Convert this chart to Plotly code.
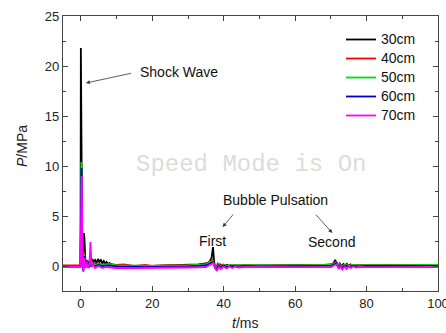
import plotly.graph_objects as go

labels = ["30cm", "40cm", "50cm", "60cm", "70cm"]
colors = ["#000000", "#ff0000", "#00dd00", "#0000cc", "#ff00ff"]

t30 = [-5, -0.1, 0, 0.15, 0.4, 0.7, 0.85, 1.0, 1.3, 1.6, 2.0, 2.4, 2.8, 3.2, 3.6, 4.0, 4.4, 4.8, 5.2, 5.6,
       6.0, 6.4, 6.8, 7.2, 7.6, 8.0, 9, 10, 12, 15, 20, 25, 30, 33, 35, 36, 36.6, 37.0, 37.3, 37.6, 38.0,
       38.5, 39, 39.5, 40, 40.5, 41, 41.5, 42, 42.5, 43, 44, 45, 46, 48, 50, 55, 60, 65, 68, 70, 70.8, 71.2,
       71.6, 72.0, 72.5, 73, 73.5, 74, 74.5, 75, 75.5, 76, 76.5, 77, 77.5, 78, 79, 80, 82, 85, 90, 95, 100]
p30 = [0, 0, 21.8, 8, 0.5, 1.5, 3.3, 2.8, 0.3, 0.6, 0.2, 0.5, 0.3, 0.7, 0.4, 0.6, 0.3, 0.7, 0.4, 0.6,
       0.3, 0.5, 0.2, 0.4, 0.2, 0.3, 0.1, 0.05, 0, -0.05, 0, 0.05, 0.1, 0.15, 0.25, 0.4, 0.8, 1.9, 0.5, -0.2, -0.35,
       -0.1, 0.15, -0.05, 0.1, 0, 0.12, -0.02, 0.1, 0, 0.08, 0.05, 0.08, 0.05, 0.05, 0.05, 0.05, 0.08, 0.1, 0.12, 0.15, 0.3, 0.6,
       0.3, 0.0, 0.25, -0.05, 0.2, -0.05, 0.2, 0, 0.15, 0, 0.12, 0.02, 0.1, 0.05, 0.08, 0.08, 0.08, 0.08, 0.08, 0.08, 0.08]

t40 = [-5, -0.1, 0.1, 0.3, 0.6, 0.9, 1.2, 1.6, 2.0, 3, 4, 5, 6, 8, 10, 12, 15, 18, 20, 25, 30, 35, 36.8, 37.3, 37.8,
       38.3, 39, 40, 41, 42, 44, 46, 50, 55, 60, 65, 70, 71.4, 71.9, 72.4, 73, 74, 75, 76, 78, 80, 85, 90, 95, 100]
p40 = [0.05, 0.05, 8.2, 1.0, -0.3, 1.5, 0.3, 0.5, 0.1, 0.3, 0.2, 0.25, 0.15, 0.2, 0.1, 0.15, 0.0, 0.1, 0.0, 0.08, 0.05, 0.15, 0.6, 0.1, -0.2,
       0.25, 0.05, 0.15, 0.0, 0.12, 0.02, 0.1, 0.0, 0.08, 0.02, 0.08, 0.1, 0.4, -0.05, 0.2, 0, 0.15, 0.02, 0.12, 0.05, 0.1, 0.03, 0.1, 0.05, 0.1]

t50 = [-5, -0.1, 0.15, 0.35, 0.6, 0.9, 1.3, 1.7, 2.2, 3, 4, 5, 6, 8, 10, 15, 20, 30, 35, 36.9, 37.4, 37.9,
       38.4, 39, 40, 41, 42, 44, 46, 50, 60, 70, 71.5, 72.0, 72.5, 73, 74, 75, 76, 78, 80, 90, 100]
p50 = [0.0, 0.0, 10.4, 1.2, -0.4, 1.2, 0.2, 0.4, 0.0, 0.25, 0.1, 0.2, 0.1, 0.15, 0.05, 0.0, 0.0, 0.05, 0.15, 0.5, 0.0, -0.3,
       0.15, -0.05, 0.12, 0.0, 0.1, 0.05, 0.08, 0.05, 0.05, 0.1, 0.35, -0.1, 0.15, -0.05, 0.12, 0.0, 0.1, 0.05, 0.08, 0.08, 0.1]

t60 = [-5, -0.1, 0.2, 0.4, 0.7, 1.0, 1.4, 1.8, 2.3, 3, 4, 5, 6, 8, 10, 15, 20, 30, 35, 37.0, 37.5, 38.0,
       38.5, 39, 40, 41, 42, 44, 46, 50, 60, 70, 71.6, 72.1, 72.6, 73, 74, 75, 76, 78, 80, 90, 100]
p60 = [-0.05, -0.05, 9.8, 1.0, -0.5, 1.0, 0.1, 0.3, -0.1, 0.15, 0.0, 0.1, 0.0, 0.05, -0.05, -0.1, -0.1, -0.05, 0.05, 0.4, -0.1, -0.35,
       0.05, -0.1, 0.05, -0.1, 0.0, -0.05, 0.0, -0.05, -0.05, 0.0, 0.3, -0.2, 0.05, -0.15, 0.05, -0.1, 0.0, -0.05, 0.0, 0.0, 0.0]

t70 = [-5, -0.1, 0.25, 0.45, 0.7, 1.0, 1.3, 1.6, 2.0, 2.4, 2.7, 3.0, 3.5, 4, 5, 6, 7, 8, 10, 15, 20, 30, 35,
       37.1, 37.6, 38.1, 38.6, 39.2, 40, 40.8, 41.6, 42.4, 43.2, 44, 46, 50, 60, 70, 71.7, 72.2, 72.7, 73.2, 73.8,
       74.4, 75, 75.6, 76.2, 77, 78, 80, 90, 100]
p70 = [-0.1, -0.1, 9.0, 1.0, -0.6, 0.8, -0.2, 0.3, -0.2, 0.2, 2.4, -0.1, 0.1, -0.2, 0.0, -0.2, -0.1, -0.15, -0.2, -0.2,
       -0.2, -0.15, -0.1, 0.3, -0.2, -0.5, -0.1, -0.3, -0.05, -0.25, -0.05, -0.2, -0.05, -0.15, -0.1, -0.12, -0.12, -0.1,
       0.2, -0.3, -0.05, -0.35, -0.05, -0.3, -0.05, -0.2, -0.05, -0.15, -0.1, -0.12, -0.12, -0.1]

series_t = [t30, t40, t50, t60, t70]
series_p = [p30, p40, p50, p60, p70]

fig = go.Figure()
for lab, col, tt, pp in zip(labels, colors, series_t, series_p):
    fig.add_trace(go.Scatter(x=tt, y=pp, mode="lines",
                             name="<span style='font-size:14px'>" + lab + "</span>",
                             line=dict(color=col, width=1.8)))

font_main = "Liberation Sans, Arial, sans-serif"
axis_common = dict(showline=True, linecolor="#444444", linewidth=1.3, mirror="ticks",
                   ticks="inside", ticklen=5, tickwidth=1, tickcolor="#444444",
                   showgrid=False, zeroline=False, automargin=False, ticklabeloverflow="allow",
                   tickfont=dict(family=font_main, size=13, color="#222222"))

fig.update_xaxes(range=[-5, 100], tickvals=[0, 20, 40, 60, 80, 100],
                 minor=dict(ticks="inside", ticklen=3, tickcolor="#444444", dtick=10, tick0=0),
                 **axis_common)
fig.update_yaxes(range=[-2.5, 25], tickvals=[0, 5, 10, 15, 20, 25],
                 minor=dict(ticks="inside", ticklen=3, tickcolor="#444444", dtick=2.5, tick0=0),
                 **axis_common)

PL, PR, PT, PB = 63, 438, 16, 291
def px(xp):
    return (xp - PL) / (PR - PL)
def py(yp):
    return (PB - yp) / (PB - PT)

arrow_style = dict(showarrow=True, arrowhead=2, arrowsize=1.0, arrowwidth=0.8, arrowcolor="#333333",
                   xref="x", yref="y", axref="x", ayref="y", text="", standoff=0, startstandoff=0)
fig.add_annotation(x=1.4, y=18.3, ax=14.5, ay=19.3, **arrow_style)
fig.add_annotation(x=39.7, y=3.9, ax=43.0, ay=5.3, **arrow_style)
fig.add_annotation(x=70.4, y=3.3, ax=65.4, ay=5.3, **arrow_style)

txt_font = dict(family=font_main, size=14, color="#111111")
for txt, tx, ty in [("Shock Wave", 27.4, 19.4), ("Bubble Pulsation", 54.5, 6.6),
                    ("First", 36.9, 2.5), ("Second", 70.1, 2.4)]:
    fig.add_annotation(x=tx, y=ty, text=txt, showarrow=False, xref="x", yref="y", font=txt_font,
                       xanchor="center", yanchor="middle")

fig.add_annotation(x=px(251), y=py(164), xref="paper", yref="paper", text="Speed Mode is On", showarrow=False,
                   xanchor="center", yanchor="middle",
                   font=dict(family="Liberation Mono, Courier New, monospace", size=24, color="#dcdcdc"))

title_font = dict(family=font_main, size=14, color="#222222")
fig.add_annotation(x=px(245), y=py(323), xref="paper", yref="paper", text="<i>t</i>/ms",
                   showarrow=False, font=title_font, xanchor="center", yanchor="middle")
fig.add_annotation(x=px(22), y=py(146), xref="paper", yref="paper", text="<i>P</i>/MPa",
                   showarrow=False, font=title_font, textangle=-90, xanchor="center", yanchor="middle")

fig.update_layout(
    width=446, height=333,
    margin=dict(l=PL, r=446 - PR, t=PT, b=333 - PB, autoexpand=False),
    paper_bgcolor="white", plot_bgcolor="white",
    showlegend=True,
    legend=dict(x=px(341), y=py(25), xanchor="left", yanchor="top", bgcolor="rgba(0,0,0,0)",
                font=dict(family=font_main, size=12, color="#111111"), tracegroupgap=0,
                itemwidth=30),
)

fig.write_html("out.html", config={"displayModeBar": False},
               post_script="document.body.style.margin='0';document.body.style.overflow='hidden';")
